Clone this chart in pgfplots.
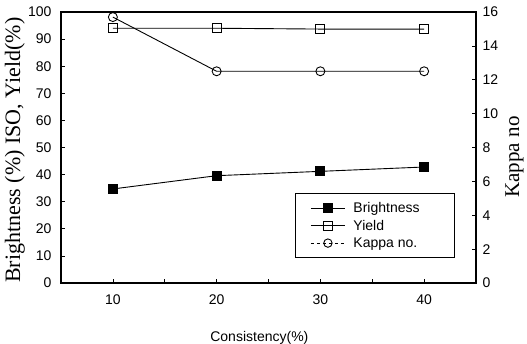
\documentclass[border=0pt]{standalone}
\usepackage{fontspec}
\setmainfont{Liberation Sans}
\newfontfamily\seriffont{Liberation Serif}
\usepackage{pgfplots}
\pgfplotsset{compat=1.18}
\begin{document}
\begin{tikzpicture}
\path[use as bounding box] (-61pt,-61pt) rectangle (466pt,283pt);
\pgfplotsset{
 every axis/.append style={
  scale only axis, width=415pt, height=271pt, xmin=5, xmax=45,
  at={(0pt,0pt)}, anchor=south west,
  tick align=inside, major tick length=4pt, minor tick length=4pt,
  /pgf/number format/assume math mode=true,
  tick label style={font=\fontsize{14}{14}\selectfont},
  axis line style={line width=1.3pt},
  tick style={line width=0.7pt, black},
 }
}
\begin{axis}[
 ymin=0, ymax=100, ytick={0,10,...,100},
 xtick={10,20,30,40}, minor xtick={15,25,35},
 xtick pos=bottom, ytick pos=left,
 yticklabel style={xshift=-6pt},
 xticklabel style={yshift=-8pt},
 xlabel={Consistency(\%)},
 xlabel style={font=\fontsize{14}{14}\selectfont, at={(axis description cs:0.478,-0.203)}, anchor=center},
 ylabel={\seriffont Brightness (\%) ISO, Yield(\%)},
 ylabel style={font=\fontsize{22}{22}\selectfont, at={(axis description cs:-0.111,0.49)}, anchor=center},
]
\addplot[black, line width=0.9pt, mark=square*, mark size=4.5pt] coordinates {(10,34.7)(20,39.6)(30,41.2)(40,42.8)};
\addplot[black, line width=0.9pt, mark=square, mark size=4.5pt, mark options={fill=white}] coordinates {(10,94)(20,94)(30,93.7)(40,93.7)};
\end{axis}
\begin{axis}[
 ymin=0, ymax=16, ytick={0,2,...,16},
 axis y line*=right, axis x line=none,
 yticklabel style={xshift=3pt},
 ylabel={\seriffont Kappa no},
 ylabel style={font=\fontsize{21}{21}\selectfont, at={(axis description cs:1.093,0.465)}, anchor=center},
 legend image code/.code={\draw[mark repeat=2,mark phase=2] plot coordinates {(0cm,0cm)(0.6cm,0cm)(1.2cm,0cm)};},
 legend style={draw=black, line width=0.8pt, font=\fontsize{14}{16}\selectfont, at={(0.949,0.092)}, anchor=south east, inner xsep=15pt, inner ysep=7pt, row sep=2pt, column sep=6pt},
 legend cell align=left,
]
\addlegendimage{black, line width=0.9pt, mark=square*, mark size=4.5pt}
\addlegendentry{\makebox[84pt][l]{Brightness}}
\addlegendimage{black, line width=0.9pt, mark=square, mark size=4.5pt}
\addlegendentry{Yield}
\addlegendimage{black, line width=0.9pt, dash pattern=on 3pt off 3pt, mark=o, mark size=4.2pt, mark options={solid}}
\addlegendentry{Kappa no.}
\addplot[black, line width=0.9pt, mark=o, mark size=4.5pt, mark options={fill=white}, forget plot] coordinates {(10,15.7)(20,12.5)(30,12.5)(40,12.5)};
\end{axis}
\end{tikzpicture}
\end{document}
